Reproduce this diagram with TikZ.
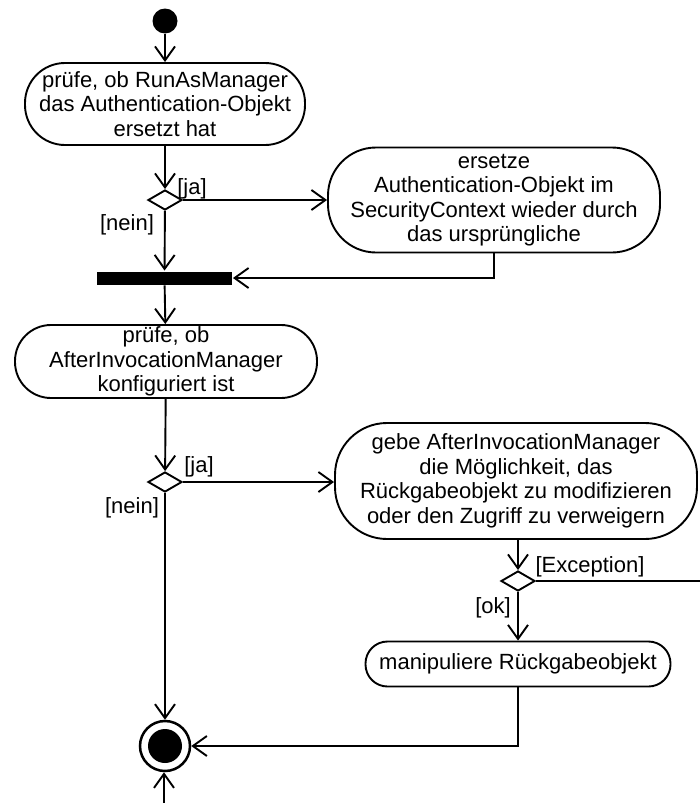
\documentclass[tikz,border=0pt]{standalone}
\usepackage{fontspec}
\setmainfont{Liberation Sans}
\usetikzlibrary{arrows.meta,shapes.geometric}
\begin{document}
\begin{tikzpicture}[x=1pt,y=-1pt,line width=1.9pt,
  font=\fontsize{22}{24.5}\selectfont,
  act/.style={draw, rectangle, rounded corners=40pt, align=center, inner sep=0pt},
  dec/.style={draw, diamond, minimum width=34pt, minimum height=20pt, inner sep=0pt},
  lbl/.style={inner sep=0pt},
  flow/.style={-{Straight Barb[length=14pt,width=20pt,line width=1.9pt]}}]
\useasboundingbox (0,0) rectangle (700,803);
\node[circle, fill, minimum size=25pt, inner sep=0pt] (start) at (165,21){};
\node[act, minimum width=280pt, minimum height=82pt] (act1) at (165,104){prüfe, ob RunAsManager\\das Authentication-Objekt\\ersetzt hat};
\node[dec] (dec1) at (165,200){};
\node[act, minimum width=332pt, minimum height=105pt, rounded corners=48pt] (act2) at (494,200){ersetze\\Authentication-Objekt im\\SecurityContext wieder durch\\das ursprüngliche};
\node[rectangle, fill, minimum width=135pt, minimum height=13pt, inner sep=0pt] (bar) at (164.5,278){};
\node[act, minimum width=302pt, minimum height=73pt, rounded corners=36pt] (act3) at (166,361.5){prüfe, ob\\AfterInvocationManager\\konfiguriert ist};
\node[dec] (dec2) at (165,482){};
\node[act, minimum width=362pt, minimum height=116pt, rounded corners=52pt] (act4) at (516,481){gebe AfterInvocationManager\\die Möglichkeit, das\\Rückgabeobjekt zu modifizieren\\oder den Zugriff zu verweigern};
\node[dec] (dec3) at (518,581){};
\node[act, minimum width=305pt, minimum height=45pt, rounded corners=22pt] (act5) at (518,664){manipuliere Rückgabeobjekt};
\node[circle, draw, line width=2.5pt, minimum size=50pt, inner sep=0pt] (fin) at (165,746){};
\node[circle, fill, minimum size=34pt, inner sep=0pt] (fin0) at (fin){};
\coordinate (exc) at (700,581);
\coordinate (back) at (164,803);
\node[lbl] (ja1) at (192,189){[ja]};
\node[lbl] (nein1) at (127,225){[nein]};
\node[lbl] (ja2) at (199,467){[ja]};
\node[lbl] (nein2) at (132,508){[nein]};
\node[lbl] (exclbl) at (590,567){[Exception]};
\node[lbl] (ok) at (493,608){[ok]};
\draw[flow](start) -- (act1);
\draw[flow](act1) -- (dec1);
\draw[flow](dec1.east) -- (dec1.east -| act2.west);
\draw[flow](dec1) -- (bar);
\draw[flow](act2.south) |- (bar.east);
\draw[flow](bar) -- (act3);
\draw[flow](act3) -- (dec2);
\draw[flow](dec2.east) -- (dec2.east -| act4.west);
\draw[flow](dec2) -- (fin);
\draw[flow](act4.south -| dec3) -- (dec3);
\draw[](dec3.east) -- (exc);
\draw[flow](dec3) -- (act5);
\draw[flow](act5.south) |- (fin.east);
\draw[flow](back) -- (fin.south -| back);
\end{tikzpicture}
\end{document}
